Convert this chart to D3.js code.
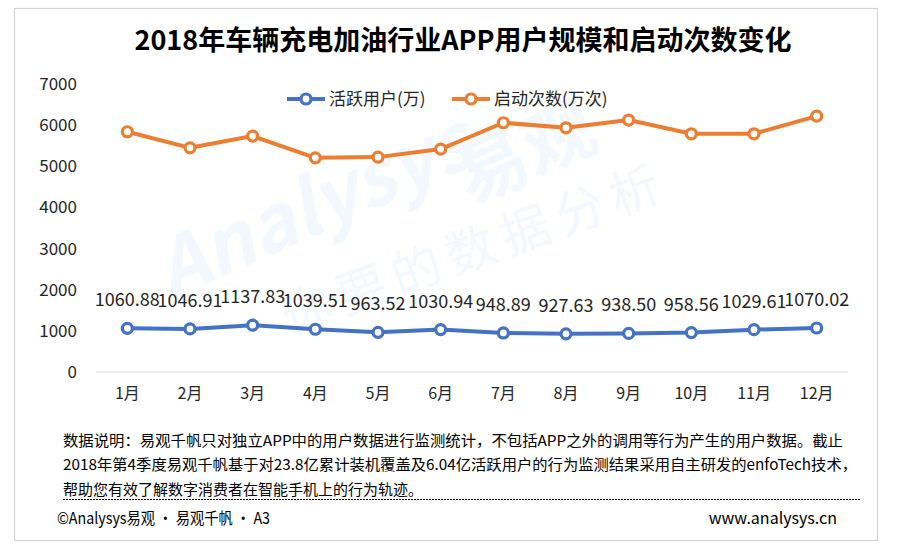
<!DOCTYPE html>
<html>
<head>
<meta charset="utf-8">
<script src="https://cdn.jsdelivr.net/npm/d3@7"></script>
<style>
  body { margin: 0; background: #fff; }
  text { font-family: "Noto Sans CJK SC", "Noto Sans", sans-serif; }
</style>
</head>
<body>
<div id="chart"></div>
<script>
const months = ['1月', '2月', '3月', '4月', '5月', '6月', '7月', '8月', '9月', '10月', '11月', '12月']
const activeUsers = [1060.88, 1046.91, 1137.83, 1039.51, 963.52, 1030.94, 948.89, 927.63, 938.50, 958.56, 1029.61, 1070.02]
const launches = [5839, 5449, 5734, 5206, 5223, 5418, 6058, 5936, 6124, 5790, 5790, 6221]
const yTicks = [0, 1000, 2000, 3000, 4000, 5000, 6000, 7000]
const seriesNames = ['活跃用户(万)', '启动次数(万次)']
const colors = ['#4472C4', '#ED7D31']

const title = '2018年车辆充电加油行业APP用户规模和启动次数变化'
const notes = [
  '数据说明：易观千帆只对独立APP中的用户数据进行监测统计，不包括APP之外的调用等行为产生的用户数据。截止',
  '2018年第4季度易观千帆基于对23.8亿累计装机覆盖及6.04亿活跃用户的行为监测结果采用自主研发的enfoTech技术，',
  '帮助您有效了解数字消费者在智能手机上的行为轨迹。'
]

const width = 901
const height = 553

const svg = d3
  .select('#chart')
  .append('svg')
  .attr('width', width)
  .attr('height', height)

// frame
svg
  .append('rect')
  .attr('x', 14.5)
  .attr('y', 8.5)
  .attr('width', 863)
  .attr('height', 532)
  .attr('fill', 'white')
  .attr('stroke', '#d6d6d6')
  .attr('stroke-width', 1.2)

// watermark
const wm = svg.append('g').attr('fill', '#5aa9e6').attr('opacity', 0.07)
wm.append('text')
  .attr('transform', 'translate(170,300) rotate(-24)')
  .attr('font-size', 78)
  .attr('font-weight', 'bold')
  .attr('font-style', 'italic')
  .text('Analysys')
wm.append('text')
  .attr('transform', 'translate(470,205) rotate(-24)')
  .attr('font-size', 72)
  .attr('font-weight', 'bold')
  .text('易观')
wm.append('text')
  .attr('transform', 'translate(290,335) rotate(-20)')
  .attr('font-size', 50)
  .attr('letter-spacing', 8)
  .text('你要的数据分析')

const xScale = d3
  .scaleBand()
  .domain(months)
  .range([96, 848])

const yScale = d3
  .scaleLinear()
  .domain([0, 7000])
  .range([372, 84])

const cx = d => xScale(d) + xScale.bandwidth() / 2

// title
svg
  .append('text')
  .attr('x', 463)
  .attr('y', 50)
  .attr('text-anchor', 'middle')
  .attr('font-size', 27)
  .attr('font-weight', 'bold')
  .attr('fill', '#000')
  .text(title)

// zero line
svg
  .append('line')
  .attr('x1', 96)
  .attr('x2', 848)
  .attr('y1', yScale(0))
  .attr('y2', yScale(0))
  .attr('stroke', '#d9d9d9')
  .attr('stroke-width', 1.2)

// y axis
const yAxis = d3
  .axisLeft(yScale)
  .tickValues(yTicks)
  .tickFormat(d3.format('d'))
  .tickSize(0)
  .tickPadding(0)

svg
  .append('g')
  .attr('class', 'y-axis')
  .attr('transform', 'translate(77,0)')
  .call(yAxis)
  .call(g => g.select('.domain').remove())
  .call(g => g.selectAll('text')
    .attr('font-size', 17)
    .attr('fill', '#262626')
    .attr('font-family', '"Noto Sans CJK SC", "Noto Sans", sans-serif'))

// x axis
const xAxis = d3.axisBottom(xScale).tickSize(0).tickPadding(0)

svg
  .append('g')
  .attr('class', 'x-axis')
  .attr('transform', 'translate(0,388)')
  .call(xAxis)
  .call(g => g.select('.domain').remove())
  .call(g => g.selectAll('text')
    .attr('font-size', 16)
    .attr('fill', '#262626')
    .attr('font-family', '"Noto Sans CJK SC", "Noto Sans", sans-serif'))

const line = d3
  .line()
  .x((d, i) => cx(months[i]))
  .y(d => yScale(d))

const allSeries = [activeUsers, launches]

allSeries.forEach((values, s) => {
  svg
    .append('path')
    .datum(values)
    .attr('d', line)
    .attr('fill', 'none')
    .attr('stroke', colors[s])
    .attr('stroke-width', 4)
    .attr('stroke-linejoin', 'round')

  svg
    .append('g')
    .selectAll('circle')
    .data(values)
    .enter()
    .append('circle')
    .attr('cx', (d, i) => cx(months[i]))
    .attr('cy', d => yScale(d))
    .attr('r', 5)
    .attr('fill', 'white')
    .attr('stroke', colors[s])
    .attr('stroke-width', 3.2)
})

// data labels for active users
svg
  .append('g')
  .selectAll('text')
  .data(activeUsers)
  .enter()
  .append('text')
  .attr('x', (d, i) => cx(months[i]))
  .attr('y', d => yScale(d) - 22)
  .attr('text-anchor', 'middle')
  .attr('font-size', 18)
  .attr('fill', '#262626')
  .text(d => d.toFixed(2))

// legend
const legendX = [287, 452]
const legend = svg.append('g')
seriesNames.forEach((name, s) => {
  const x0 = legendX[s]
  legend.append('line')
    .attr('x1', x0).attr('x2', x0 + 38)
    .attr('y1', 99).attr('y2', 99)
    .attr('stroke', colors[s])
    .attr('stroke-width', 4)
  legend.append('circle')
    .attr('cx', x0 + 19).attr('cy', 99)
    .attr('r', 5)
    .attr('fill', 'white')
    .attr('stroke', colors[s])
    .attr('stroke-width', 3.2)
  legend.append('text')
    .attr('x', x0 + 42)
    .attr('y', 105)
    .attr('font-size', 17)
    .attr('fill', '#262626')
    .text(name)
})

// footnote
const noteY = [446, 470, 495]
const noteLen = [780, 794, null]
notes.forEach((t, i) => {
  const el = svg.append('text')
    .attr('x', 63)
    .attr('y', noteY[i])
    .attr('font-size', 15)
    .attr('fill', '#000')
    .text(t)
  if (noteLen[i]) {
    el.attr('textLength', noteLen[i]).attr('lengthAdjust', 'spacingAndGlyphs')
  }
})

svg
  .append('line')
  .attr('x1', 63)
  .attr('x2', 860)
  .attr('y1', 499.5)
  .attr('y2', 499.5)
  .attr('stroke', '#000')
  .attr('stroke-width', 1)
  .attr('stroke-dasharray', '2,1')

svg
  .append('text')
  .attr('x', 57)
  .attr('y', 524)
  .attr('font-size', 16)
  .attr('fill', '#000')
  .attr('textLength', 213)
  .attr('lengthAdjust', 'spacingAndGlyphs')
  .text('©Analysys易观 · 易观千帆 · A3')

svg
  .append('text')
  .attr('x', 837)
  .attr('y', 524)
  .attr('text-anchor', 'end')
  .attr('font-size', 16)
  .attr('fill', '#000')
  .text('www.analysys.cn')
</script>
</body>
</html>
